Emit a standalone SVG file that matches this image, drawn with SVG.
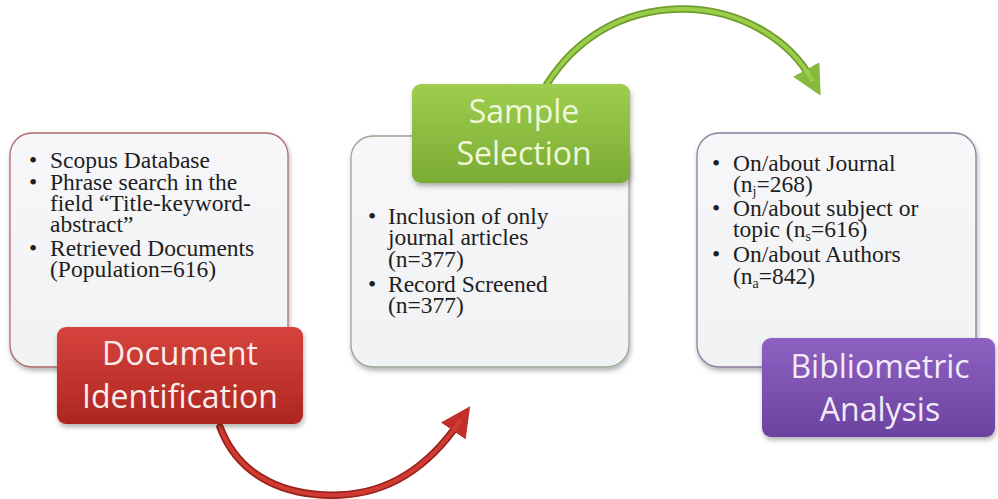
<svg xmlns="http://www.w3.org/2000/svg" width="998" height="499" viewBox="0 0 998 499">
<defs>
<linearGradient id="boxFill" x1="0" y1="0" x2="0" y2="1"><stop offset="0" stop-color="#f7f7f9"/><stop offset="1" stop-color="#f1f2f4"/></linearGradient>
<linearGradient id="gRed" x1="0" y1="0" x2="0" y2="1"><stop offset="0" stop-color="#d6443d"/><stop offset="1" stop-color="#ad2621"/></linearGradient>
<linearGradient id="gGreen" x1="0" y1="0" x2="0" y2="1"><stop offset="0" stop-color="#9fce4e"/><stop offset="1" stop-color="#7aab33"/></linearGradient>
<linearGradient id="gPurple" x1="0" y1="0" x2="0" y2="1"><stop offset="0" stop-color="#8d62c2"/><stop offset="1" stop-color="#6c42a0"/></linearGradient>
<filter id="sh" x="-10%" y="-10%" width="125%" height="130%"><feDropShadow dx="1" dy="3" stdDeviation="2.5" flood-color="#000" flood-opacity="0.3"/></filter>
<marker id="headRed" viewBox="0 0 10 10" refX="4" refY="5" markerWidth="4" markerHeight="4" orient="auto" markerUnits="strokeWidth"><path d="M0,0 L10,5 L0,10 Z" fill="#c22e29"/></marker>
<marker id="headGreen" viewBox="0 0 10 10" refX="4" refY="5" markerWidth="4" markerHeight="4" orient="auto" markerUnits="strokeWidth"><path d="M0,0 L10,5 L0,10 Z" fill="#86b93c"/></marker>
</defs>
<style>
.box{fill:url(#boxFill);stroke-width:1.3}
.txt{font-family:"Liberation Serif","Times New Roman",serif;font-size:23.5px;fill:#1e1e1e}
.lbl{font-family:"Open Sans","Liberation Sans",sans-serif;font-size:32px;text-anchor:middle}
</style>
<g id="connectors">
<path d="M220,427 C240,480 290,497 340,495 C390,493 430,465 460,421" fill="none" stroke="#9a1f1b" stroke-width="7.5" stroke-linecap="round" marker-end="url(#headRed)"/>
<path d="M220,427 C240,480 290,497 340,495 C390,493 430,465 460,421" fill="none" stroke="#cf3a33" stroke-width="4" stroke-linecap="round"/>
<path d="M547,84 C575,40 620,10 680,9 C740,8 790,40 812,80" fill="none" stroke="#6f9d2c" stroke-width="7.5" stroke-linecap="round" marker-end="url(#headGreen)"/>
<path d="M547,84 C575,40 620,10 680,9 C740,8 790,40 812,80" fill="none" stroke="#9acd4a" stroke-width="4" stroke-linecap="round"/>
</g>
<g id="node-identification">
<rect class="box" x="10" y="133" width="278" height="234" rx="22" stroke="#b06a6a" filter="url(#sh)"/>
<text class="txt"><tspan x="29" y="168">•</tspan><tspan x="50" y="168">Scopus Database</tspan><tspan x="29" y="190">•</tspan><tspan x="50" y="190">Phrase search in the</tspan><tspan x="50" y="211">field  “Title-keyword-</tspan><tspan x="50" y="232">abstract”</tspan><tspan x="29" y="256">•</tspan><tspan x="50" y="256">Retrieved Documents</tspan><tspan x="50" y="277">(Population=616)</tspan></text>
<rect x="57" y="327" width="246" height="97" rx="9" fill="url(#gRed)" filter="url(#sh)"/>
<text class="lbl" fill="#f9ecec"><tspan x="180" y="365">Document</tspan><tspan x="180" y="408">Identification</tspan></text>
</g>
<g id="node-selection">
<rect class="box" x="351" y="136" width="278" height="231" rx="22" stroke="#98a690" filter="url(#sh)"/>
<text class="txt"><tspan x="368" y="224">•</tspan><tspan x="388" y="224">Inclusion  of only</tspan><tspan x="388" y="245">journal  articles</tspan><tspan x="388" y="267">(n=377)</tspan><tspan x="368" y="292">•</tspan><tspan x="388" y="292">Record Screened</tspan><tspan x="388" y="313">(n=377)</tspan></text>
<rect x="412" y="84" width="218" height="99" rx="9" fill="url(#gGreen)" filter="url(#sh)"/>
<text class="lbl" fill="#eef7d8"><tspan x="524" y="123">Sample</tspan><tspan x="524" y="165">Selection</tspan></text>
</g>
<g id="node-analysis">
<rect class="box" x="697" y="133" width="279" height="234" rx="22" stroke="#8c7c9c" filter="url(#sh)"/>
<text class="txt"><tspan x="712" y="171">•</tspan><tspan x="733" y="171">On/about Journal</tspan><tspan x="733" y="192">(n<tspan font-size="14" dy="4">j</tspan><tspan dy="-4">=268)</tspan></tspan><tspan x="712" y="216">•</tspan><tspan x="733" y="216">On/about subject or</tspan><tspan x="733" y="237">topic  (n<tspan font-size="14" dy="4">s</tspan><tspan dy="-4">=616)</tspan></tspan><tspan x="712" y="262">•</tspan><tspan x="733" y="262">On/about Authors</tspan><tspan x="733" y="284">(n<tspan font-size="14" dy="4">a</tspan><tspan dy="-4">=842)</tspan></tspan></text>
<rect x="762" y="338" width="233" height="99" rx="9" fill="url(#gPurple)" filter="url(#sh)"/>
<text class="lbl" fill="#f3eaf8"><tspan x="880" y="378">Bibliometric</tspan><tspan x="880" y="421">Analysis</tspan></text>
</g>
</svg>
